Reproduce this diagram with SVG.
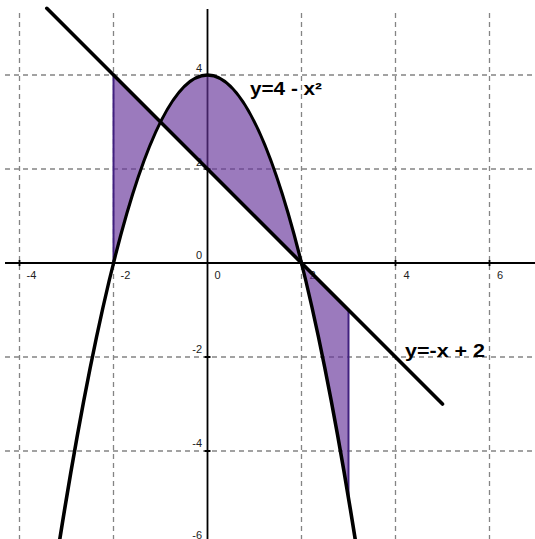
<svg xmlns="http://www.w3.org/2000/svg" width="535" height="539" viewBox="0 0 535 539">
<style>
.grid{stroke:#848484;stroke-width:1.3;stroke-dasharray:5 4;fill:none}
.axis{stroke:#000;stroke-width:1.8;fill:none}
.tick{stroke:#000;stroke-width:1.8}
.lbl{font-family:"Liberation Sans",Arial,sans-serif;font-size:11px;fill:#222}
.curve{stroke:#000;stroke-width:3.6;fill:none;stroke-linecap:round}
.edge{stroke:#40207f;stroke-width:2}
.title{font-family:"Liberation Sans",Arial,sans-serif;font-size:18px;font-weight:bold;fill:#000}
</style>
<rect width="535" height="539" fill="#fff"/>
<g id="grid">
<line class="grid" x1="19.5" y1="13" x2="19.5" y2="539"/>
<line class="grid" x1="113.5" y1="13" x2="113.5" y2="539"/>
<line class="grid" x1="301.5" y1="13" x2="301.5" y2="539"/>
<line class="grid" x1="395.5" y1="13" x2="395.5" y2="539"/>
<line class="grid" x1="489.5" y1="13" x2="489.5" y2="539"/>
<line class="grid" x1="5" y1="75" x2="535" y2="75"/>
<line class="grid" x1="5" y1="169" x2="535" y2="169"/>
<line class="grid" x1="5" y1="357" x2="535" y2="357"/>
<line class="grid" x1="5" y1="451" x2="535" y2="451"/>
</g>
<g id="axes">
<line class="axis" x1="5" y1="263" x2="535" y2="263"/>
<line class="axis" x1="207.5" y1="9" x2="207.5" y2="539"/>
<path class="tick" d="M19.5 260v6M113.5 260v6M301.5 260v6M395.5 260v6M489.5 260v6M204.5 75h6M204.5 169h6M204.5 357h6M204.5 451h6"/>
</g>
<g id="axis-labels" class="lbl">
<text x="26.5" y="279">-4</text>
<text x="120.5" y="279">-2</text>
<text x="214.5" y="279">0</text>
<text x="309.5" y="279">2</text>
<text x="403.5" y="279">4</text>
<text x="497" y="279">6</text>
<text x="202" y="72" text-anchor="end">4</text>
<text x="202" y="166" text-anchor="end">2</text>
<text x="202" y="259" text-anchor="end">0</text>
<text x="202" y="353" text-anchor="end">-2</text>
<text x="202" y="447" text-anchor="end">-4</text>
<text x="202" y="539" text-anchor="end">-6</text>
</g>
<g id="shaded-region">
<path d="M113.5 75 L348.5 310 L348.5 498 Q231 -207 113.5 263 Z" fill="#663399" fill-opacity="0.65" stroke="none"/>
<line class="edge" x1="113.5" y1="75" x2="113.5" y2="263"/>
<line class="edge" x1="348.5" y1="310" x2="348.5" y2="498"/>
</g>
<g id="curves">
<path id="parabola" class="curve" d="M57.1 556.3 Q207.5 -406.3 357.9 556.3"/>
<line id="line" class="curve" x1="46.8" y1="8.3" x2="442.5" y2="404"/>
</g>
<g id="curve-labels" class="title">
<text x="250" y="95" textLength="72" lengthAdjust="spacingAndGlyphs">y=4 - x²</text>
<text x="405" y="357" textLength="80" lengthAdjust="spacingAndGlyphs">y=-x + 2</text>
</g>
</svg>
